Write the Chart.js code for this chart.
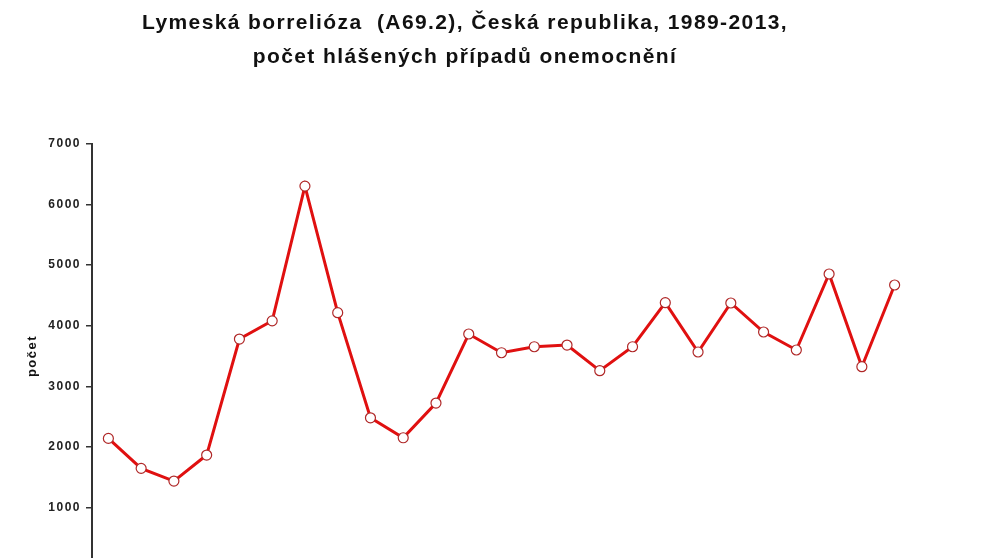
<!DOCTYPE html>
<html>
<head>
<meta charset="utf-8">
<script src="https://cdn.jsdelivr.net/npm/chart.js@4/dist/chart.umd.min.js"></script>
<style>
  html, body { margin: 0; padding: 0; background: #fff; overflow: hidden; }
  #wrap { position: relative; width: 991px; height: 600px; }
  h1 {
    position: absolute; left: 0; top: 0; width: 930px; margin: 0; padding-top: 5px;
    text-align: center; font: bold 21px/34px "Liberation Sans", Arial, sans-serif;
    letter-spacing: 1.4px; color: #111;
  }
</style>
</head>
<body>
<div id="wrap">
  <h1>Lymeská borrelióza&nbsp; (A69.2), Česká republika, 1989-2013,<br>počet hlášených případů onemocnění</h1>
  <canvas id="chart"></canvas>
</div>
<script>
// roky a počty hlášených případů
var years = ['1989','1990','1991','1992','1993','1994','1995','1996','1997','1998','1999','2000','2001',
	'2002','2003','2004','2005','2006','2007','2008','2009','2010','2011','2012','2013'];
var cases = [2140, 1645, 1435, 1865, 3780, 4080, 6305, 4215, 2480, 2150, 2723, 3863, 3554,
	3653, 3681, 3257, 3653, 4380, 3566, 4375, 3896, 3599, 4854, 3323, 4672];
var yTicks = [0, 1000, 2000, 3000, 4000, 5000, 6000, 7000];

// roztažené písmo popisků jako v originále
var spacing = {
	id: 'spacing',
	beforeDraw: function(chart) { chart.ctx.letterSpacing = '1.5px'; }
};

var ctx = document.getElementById('chart').getContext('2d');
var mychart = new Chart(ctx, {
	type: 'line',
	data: {
		labels: years,
		datasets: [{
			label: 'počet',
			data: cases,
			borderColor: '#e01010',
			borderWidth: 3,
			backgroundColor: '#ffffff',
			pointBackgroundColor: '#ffffff',
			pointBorderColor: '#b02828',
			pointBorderWidth: 1.2,
			pointRadius: 5,
			tension: 0
		}]
	},
	plugins: [spacing],
	options: {
		responsive: true,
		maintainAspectRatio: false,
		animation: false,
		layout: { padding: { left: 0, right: 80, top: 144, bottom: 0 } },
		plugins: {
			legend: { display: false },
			tooltip: { enabled: false },
			title: { display: false }
		},
		scales: {
			x: {
				offset: true,
				grid: { display: false, drawTicks: false },
				border: { display: false },
				ticks: { display: false },
				afterFit: function(scale) { scale.height = 32; }
			},
			y: {
				min: 0,
				max: 7000,
				afterBuildTicks: function(scale) {
					scale.ticks = yTicks.map(function(v) { return { value: v }; });
				},
				grid: { display: true, drawOnChartArea: false, drawTicks: true, tickLength: 6, color: '#333', lineWidth: 1.5 },
				border: { display: true, color: '#333', width: 2 },
				ticks: {
					color: '#222',
					padding: 5,
					font: { family: 'Liberation Sans, Arial, sans-serif', size: 12, weight: 'bold' },
					callback: function(v) { return String(v); }
				},
				title: {
					display: true,
					text: 'počet',
					color: '#111',
					padding: { top: 25, bottom: 0 },
					font: { family: 'Liberation Sans, Arial, sans-serif', size: 13, weight: 'bold' }
				},
				afterFit: function(scale) { scale.width = 92; }
			}
		}
	}
});
</script>
</body>
</html>
